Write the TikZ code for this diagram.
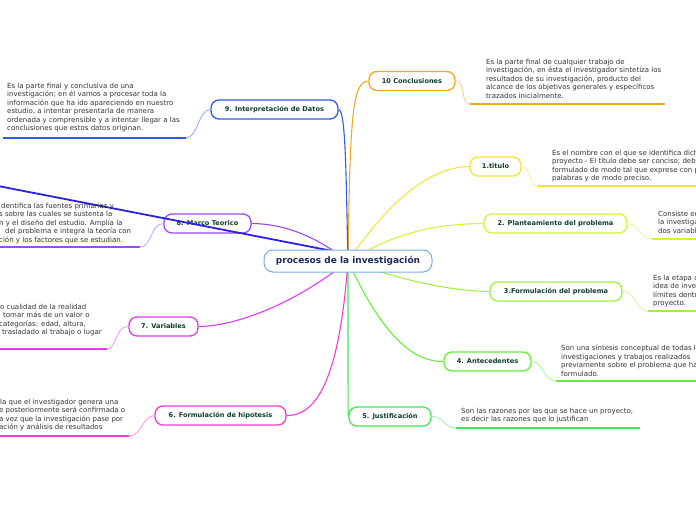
\documentclass[tikz,border=0pt]{standalone}
\usepackage{fontspec}
\setmainfont{DejaVu Sans}
\pgfdeclarelayer{bg}
\pgfsetlayers{bg,main}
\definecolor{cOr}{HTML}{F5A623}
\definecolor{cBl}{HTML}{2F5BEA}
\definecolor{cYe}{HTML}{F2E43C}
\definecolor{cYg}{HTML}{D6F23A}
\definecolor{cLg}{HTML}{A2F03E}
\definecolor{cGr}{HTML}{66EE3A}
\definecolor{cBg}{HTML}{3CEA55}
\definecolor{cPk}{HTML}{F23CD0}
\definecolor{cVi}{HTML}{DC3CF2}
\definecolor{cPu}{HTML}{9B4AF2}
\definecolor{cDk}{HTML}{2A22E0}
\definecolor{lblc}{HTML}{0E3D2C}
\definecolor{txtc}{HTML}{333333}
\definecolor{ctrc}{HTML}{1C2A5C}
\definecolor{ctrb}{HTML}{7AAEDF}
\tikzset{
  branch/.style={draw=#1, line width=1.3pt, rounded corners=8pt, fill=white, minimum height=19pt,
    inner sep=0pt, text=lblc, font=\fontsize{6.6}{7.5}\selectfont\bfseries},
  desc/.style={anchor=north west, inner sep=0pt, align=left, text=txtc, font=\fontsize{7}{8.4}\selectfont},
  trunk/.style={draw=#1, line width=1.1pt},
  twig/.style={draw=#1!55, line width=0.8pt},
  uline/.style={draw=#1, line width=1.8pt},
}
\begin{document}
\begin{tikzpicture}[x=1pt,y=-1pt]
\useasboundingbox (0,0) rectangle (696,520);
\clip (0,0) rectangle (696,520);
\coordinate (c) at (348,261);
\coordinate (far) at (-2,186);
\coordinate (near) at (348,254);
% branch nodes
\node[branch=cOr, minimum width=86pt] (n10) at (412,81) {10 Conclusiones};
\node[branch=cBl, minimum width=127pt] (n9) at (274.5,109.5) {9. Interpretación de Datos};
\node[branch=cYe, minimum width=51pt] (n1) at (495.5,166.5) {1.titulo};
\node[branch=cYg, minimum width=143pt] (n2) at (555.5,223.5) {2. Planteamiento del problema};
\node[branch=cLg, minimum width=132pt] (n3) at (556,291.5) {3.Formulación del problema};
\node[branch=cGr, minimum width=87pt] (n4) at (487.5,361.5) {4. Antecedentes};
\node[branch=cBg, minimum width=82pt] (n5) at (390,416.5) {5. Justificación};
\node[branch=cPk, minimum width=131pt] (n6) at (220.5,415.5) {6. Formulación de hipotesis};
\node[branch=cVi, minimum width=69pt] (n7) at (163.5,326.5) {7. Variables};
\node[branch=cPu, minimum width=87pt] (n8) at (207.5,223.5) {8. Marco Teorico};
% trunks behind
\begin{pgfonlayer}{bg}
\draw[trunk=cOr] (c) .. controls (350,120) and (352,81) .. (n10.west);
\draw[trunk=cBl] (n9.east) .. controls (346,110) and (346,180) .. (c);
\draw[trunk=cYe] (c) .. controls (390,200) and (430,167) .. (n1.west);
\draw[trunk=cYg] (c) .. controls (400,230) and (440,224) .. (n2.west);
\draw[trunk=cLg] (c) .. controls (400,280) and (450,291) .. (n3.west);
\draw[trunk=cGr] (c) .. controls (380,330) and (410,362) .. (n4.west);
\draw[trunk=cBg] (c) .. controls (348,380) and (348,416) .. (n5.west);
\draw[trunk=cPk] (c) .. controls (340,370) and (320,416) .. (n6.east);
\draw[trunk=cVi] (c) .. controls (300,300) and (240,326) .. (n7.east);
\draw[trunk=cPu] (n8.east) .. controls (290,224) and (320,240) .. (c);
\end{pgfonlayer}
% long dark line over node 8
\draw[cDk, line width=1.8pt] (far) -- (near);
% centre
\node[draw=ctrb, line width=1pt, rounded corners=9pt, fill=white, minimum width=168pt, minimum height=22pt,
  inner sep=0pt, text=ctrc, font=\fontsize{9}{10}\selectfont\bfseries] (ctr) at (c) {procesos de la investigación};
% underlines
\coordinate (u10a) at (470,104); \coordinate (u10b) at (665,104);
\coordinate (u9a) at (3,138); \coordinate (u9b) at (186,138);
\coordinate (u1a) at (537,186); \coordinate (u1b) at (700,186);
\coordinate (u2a) at (652,239); \coordinate (u2b) at (700,239);
\coordinate (u3a) at (648,311); \coordinate (u3b) at (700,311);
\coordinate (u4a) at (556,381); \coordinate (u4b) at (700,381);
\coordinate (u5a) at (456,428); \coordinate (u5b) at (640,428);
\coordinate (u6a) at (-5,436); \coordinate (u6b) at (129,436);
\coordinate (u7a) at (-5,349); \coordinate (u7b) at (107,349);
\coordinate (u8a) at (-5,247); \coordinate (u8b) at (140,247);
\draw[uline=cOr] (u10a) -- (u10b);
\draw[uline=cBl] (u9a) -- (u9b);
\draw[uline=cYe] (u1a) -- (u1b);
\draw[uline=cYg] (u2a) -- (u2b);
\draw[uline=cLg] (u3a) -- (u3b);
\draw[uline=cGr] (u4a) -- (u4b);
\draw[uline=cBg] (u5a) -- (u5b);
\draw[uline=cPk] (u6a) -- (u6b);
\draw[uline=cVi] (u7a) -- (u7b);
\draw[uline=cPu] (u8a) -- (u8b);
% twigs
\draw[twig=cOr] (n10.east) .. controls (466,81) and (460,104) .. (u10a);
\draw[twig=cBl] (n9.west) .. controls (198,110) and (198,138) .. (u9b);
\draw[twig=cYe] (n1.east) .. controls (532,167) and (528,186) .. (u1a);
\draw[twig=cYg] (n2.east) .. controls (640,224) and (640,239) .. (u2a);
\draw[twig=cLg] (n3.east) .. controls (636,291) and (636,311) .. (u3a);
\draw[twig=cGr] (n4.east) .. controls (544,362) and (543,381) .. (u4a);
\draw[twig=cBg] (n5.east) .. controls (444,416) and (444,428) .. (u5a);
\draw[twig=cPk] (n6.west) .. controls (142,416) and (142,436) .. (u6b);
\draw[twig=cVi] (n7.west) .. controls (115,326) and (117,349) .. (u7b);
\draw[twig=cPu] (n8.west) .. controls (150,224) and (152,247) .. (u8b);
% descriptions
\node[desc] (d10) at (486,59) {Es la parte final de cualquier trabajo de\\investigación, en ésta el investigador sintetiza los\\resultados de su investigación, producto del\\alcance de los objetivos generales y específicos\\trazados inicialmente.};
\node[desc] (d9) at (7,83) {Es la parte final y conclusiva de una\\investigación; en él vamos a procesar toda la\\información que ha ido apareciendo en nuestro\\estudio, a intentar presentarla de manera\\ordenada y comprensible y a intentar llegar a las\\conclusiones que estos datos originan.};
\node[desc] (d1) at (552,150) {Es el nombre con el que se identifica dicho\\proyecto - El título debe ser conciso; debe ser\\formulado de modo tal que exprese con pocas\\palabras y de modo preciso.};
\node[desc] (d2) at (658,211) {Consiste en\\la investigación\\dos variables};
\node[desc] (d3) at (653,275) {Es la etapa donde\\idea de investigación\\límites dentro del\\proyecto.};
\node[desc] (d4) at (561,345) {Son una síntesis conceptual de todas las\\investigaciones y trabajos realizados\\previamente sobre el problema que ha sido\\formulado.};
\node[desc] (d5) at (461,408) {Son las razones por las que se hace un proyecto,\\es decir las razones que lo justifican};
\node[desc] (d6) at (-1,399) {\hspace{1pt}la que el investigador genera una\\e posteriormente será confirmada o\\a vez que la investigación pase por\\ación y análisis de resultados};
\node[desc] (d7) at (-1,304) {\hspace{1pt}o cualidad de la realidad\\\hspace{4pt}tomar más de un valor o\\categorías: edad, altura,\\\hspace{3pt}trasladado al trabajo o lugar};
\node[desc] (d8) at (-1,203) {\hspace{2pt}dentifica las fuentes primarias y\\s sobre las cuales se sustenta la\\n y el diseño del estudio. Amplía la\\\hspace{6pt}del problema e integra la teoría con\\ción y los factores que se estudian.};
\end{tikzpicture}
\end{document}
